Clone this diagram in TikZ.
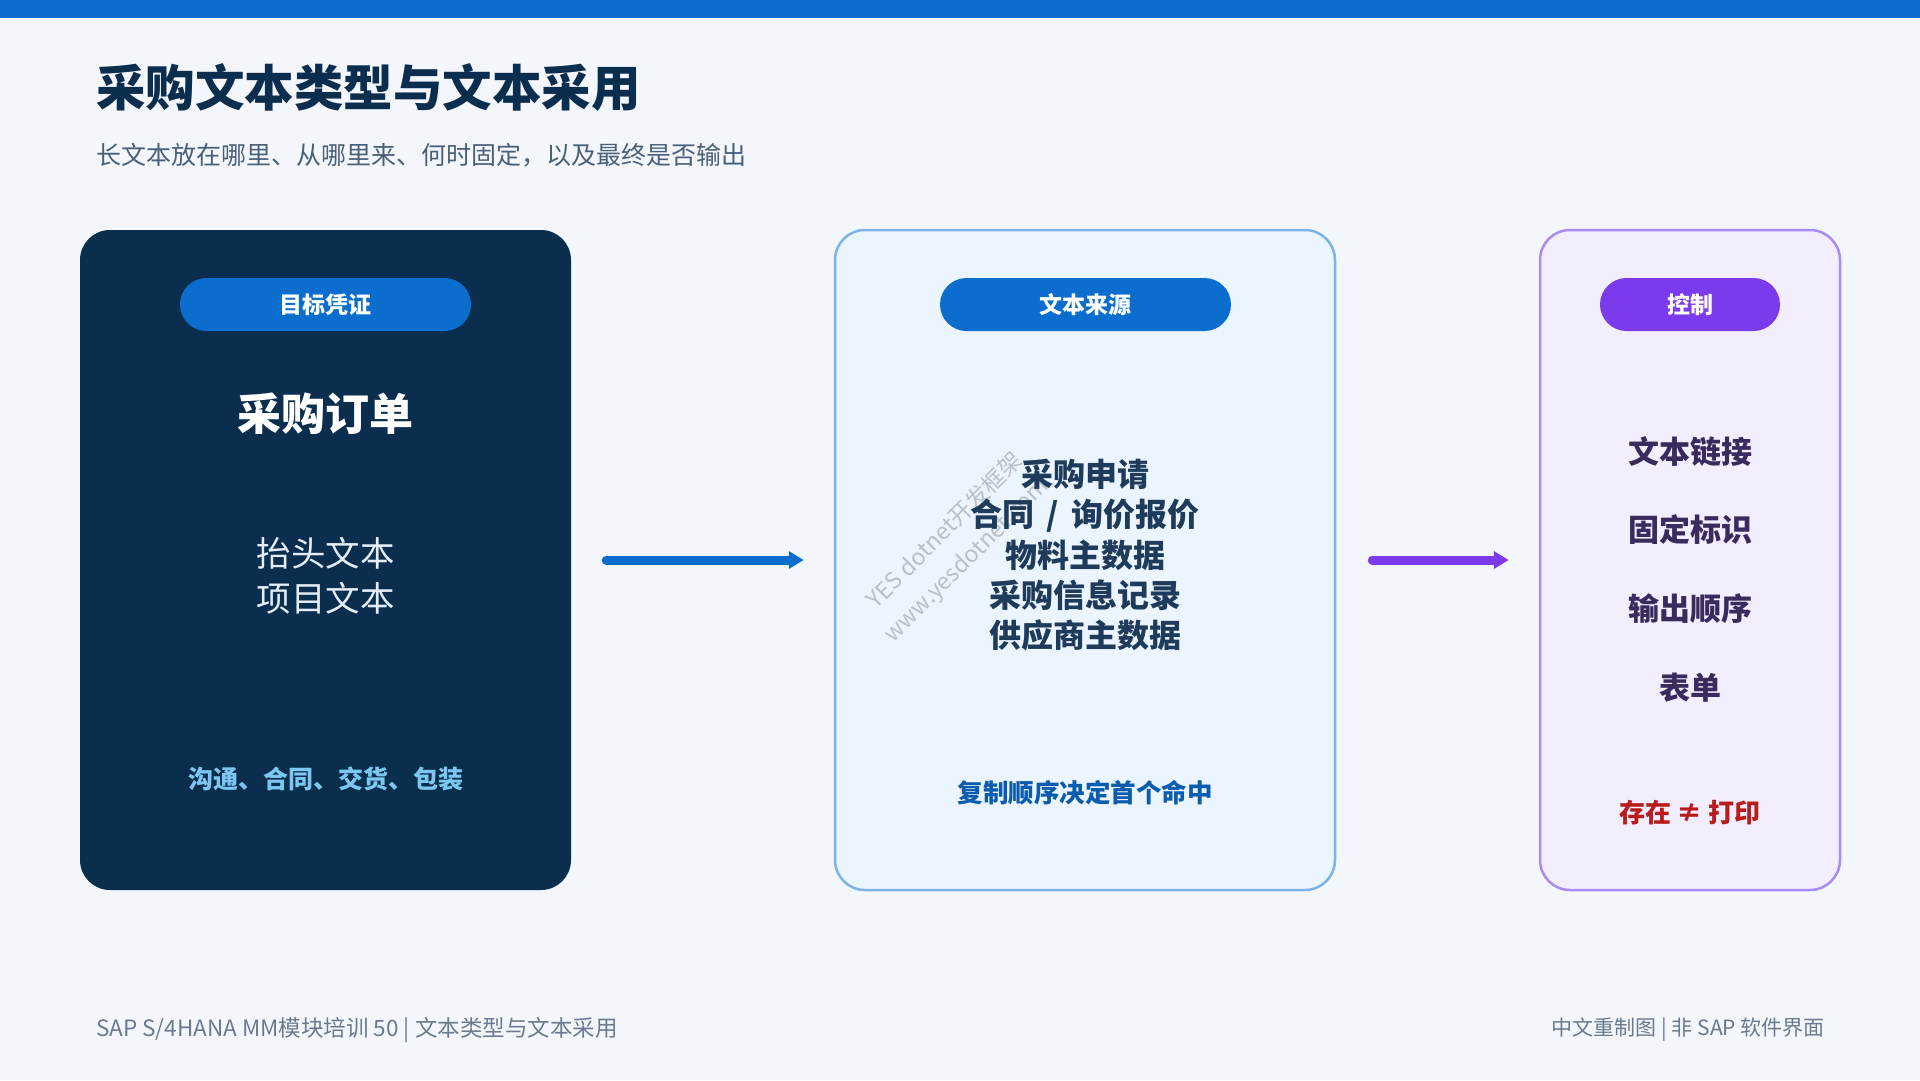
\documentclass[tikz,border=0pt]{standalone}
\usepackage{fontspec}
\setmainfont{Noto Sans CJK SC}
\usetikzlibrary{arrows.meta}
\definecolor{bg}{HTML}{F3F7FC}
\definecolor{topbar}{HTML}{0B6ECF}
\definecolor{navy}{HTML}{0B2D4E}
\definecolor{subt}{HTML}{4A5F78}
\definecolor{pillblue}{HTML}{0B6ECF}
\definecolor{pillpurple}{HTML}{7C3AED}
\definecolor{midfill}{HTML}{EAF5FF}
\definecolor{midborder}{HTML}{7DB3E6}
\definecolor{rfill}{HTML}{F3EEFE}
\definecolor{rborder}{HTML}{A98BF5}
\definecolor{midtext}{HTML}{1F3B5C}
\definecolor{midnote}{HTML}{0B5CAD}
\definecolor{rtext}{HTML}{3B2A5E}
\definecolor{rnote}{HTML}{B91C1C}
\definecolor{lighttext}{HTML}{E3EEF9}
\definecolor{lightblue}{HTML}{7CC7F0}
\definecolor{foot}{HTML}{6B7A90}
\definecolor{wmark}{HTML}{B9C0C8}
\newcommand\fsz[2]{\fontsize{#1pt}{#2pt}\selectfont}
\tikzset{
  card/.style={rounded corners=30pt, minimum height=660pt, inner sep=0pt},
  pill/.style={rounded corners=26.5pt, minimum height=53pt, inner sep=0pt, text=white, font=\fsz{23}{26}\bfseries},
  flowarrow/.style={line width=9pt, line cap=round, -{Triangle[length=15pt, width=17pt]}},
}
\begin{document}
\begin{tikzpicture}[x=1pt,y=-1pt]
\fill[bg] (0,0) rectangle (1920,1080);
\useasboundingbox (0,0) rectangle (1920,1080);
\fill[topbar] (0,0) rectangle (1920,18);

% title
\node[anchor=west, inner sep=0pt, text=navy, font=\fsz{49.5}{56}\bfseries] (title) at (96,88) {采购文本类型与文本采用};
\node[anchor=west, inner sep=0pt, text=subt, font=\fsz{25}{30}] (subtitle) at (96,155) {长文本放在哪里、从哪里来、何时固定，以及最终是否输出};

% cards
\node[card, fill=navy, minimum width=491pt] (c1) at (325.5,560) {};
\node[card, fill=midfill, draw=midborder, line width=2.5pt, minimum width=500pt] (c2) at (1085,560) {};
\node[card, fill=rfill, draw=rborder, line width=2.5pt, minimum width=300pt] (c3) at (1690,560) {};

% watermark
\node[rotate=45, text=wmark, font=\fsz{23}{25}, inner sep=0pt] (wm1) at (944,530) {YES dotnet开发框架};
\node[rotate=45, text=wmark, font=\fsz{23}{25}, inner sep=0pt] (wm2) at (967,561) {www.yesdotnet.com};

% pills
\node[pill, fill=pillblue, minimum width=291pt] (p1) at (325.5,304.5) {目标凭证};
\node[pill, fill=pillblue, minimum width=291pt] (p2) at (1085.5,304.5) {文本来源};
\node[pill, fill=pillpurple, minimum width=180pt] (p3) at (1690,304.5) {控制};

% left card content
\node[text=white, font=\fsz{44}{50}\bfseries, inner sep=0pt] (po) at (325.5,414) {采购订单};
\node[text=lighttext, font=\fsz{34.5}{45}, align=center, inner sep=0pt] (ltxt) at (325.5,576) {抬头文本\\项目文本};
\node[text=lightblue, font=\fsz{25}{28}\bfseries, inner sep=0pt] (lnote) at (325.5,779) {沟通、合同、交货、包装};

% middle card content
\node[text=midtext, font=\fsz{32}{40.4}\bfseries, align=center, inner sep=0pt] (mlist) at (1085,555) {采购申请\\合同\hspace{5pt} / \hspace{5pt}询价报价\\物料主数据\\采购信息记录\\供应商主数据};
\node[text=midnote, font=\fsz{25.5}{30}\bfseries, inner sep=0pt] (mnote) at (1085,793) {复制顺序决定首个命中};

% right card content
\node[text=rtext, font=\fsz{31}{36}\bfseries, inner sep=0pt] (r1) at (1690,452) {文本链接};
\node[text=rtext, font=\fsz{31}{36}\bfseries, inner sep=0pt] (r2) at (1690,530) {固定标识};
\node[text=rtext, font=\fsz{31}{36}\bfseries, inner sep=0pt] (r3) at (1690,609) {输出顺序};
\node[text=rtext, font=\fsz{31}{36}\bfseries, inner sep=0pt] (r4) at (1690,688) {表单};
\node[text=rnote, font=\fsz{26}{30}\bfseries, inner sep=0pt] (rnote) at (1690,813) {存在 ≠ 打印};

% arrows
\draw[flowarrow, draw=pillblue, fill=pillblue] ([xshift=35pt]c1.east) -- ([xshift=-30pt]c2.west);
\draw[flowarrow, draw=pillpurple, fill=pillpurple] ([xshift=36pt]c2.east) -- ([xshift=-30pt]c3.west);

% footer
\node[anchor=west, text=foot, font=\fsz{22.5}{26}, inner sep=0pt] (footl) at (96,1030) {SAP S/4HANA MM模块培训 50 | 文本类型与文本采用};
\node[anchor=east, text=foot, font=\fsz{21}{26}, inner sep=0pt] (footr) at (1825,1030) {中文重制图 | 非 SAP 软件界面};
\end{tikzpicture}
\end{document}
